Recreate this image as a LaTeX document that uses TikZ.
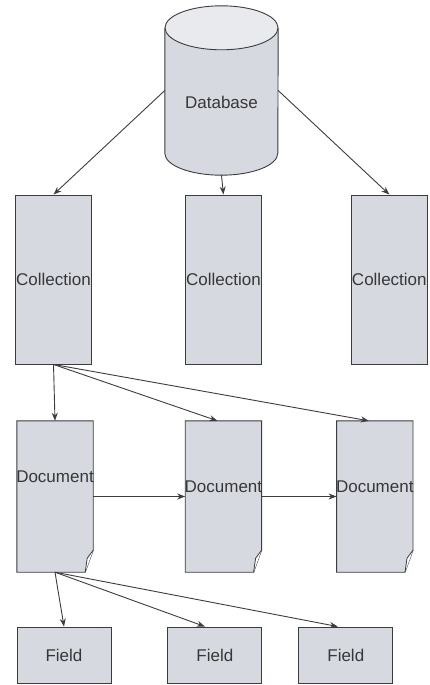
\documentclass[tikz,border=0pt]{standalone}
\usepackage{fontspec}
\setmainfont{Liberation Sans}
\usetikzlibrary{arrows.meta,positioning,backgrounds}
\definecolor{boxfill}{RGB}{214,218,224}
\definecolor{capfill}{RGB}{232,234,238}
\definecolor{edgegray}{RGB}{60,60,60}
\definecolor{textgray}{RGB}{55,55,55}

\begin{document}
\begin{tikzpicture}[x=1pt,y=-1pt,every node/.style={font=\fontsize{17}{20}\selectfont,text=textgray},
    collbox/.style={draw=edgegray,line width=0.9pt,fill=boxfill,minimum width=76pt,minimum height=169pt,inner sep=0pt},
    docpage/.style={minimum width=76pt,minimum height=151pt,inner sep=0pt},
    fieldbox/.style={draw=edgegray,line width=0.9pt,fill=boxfill,minimum width=94pt,minimum height=56pt,inner sep=0pt},
    link/.style={-{Stealth[length=8pt,width=6pt]},draw=edgegray,line width=0.9pt}]
      \useasboundingbox (0,0) rectangle (429,685);
      \node[minimum width=113pt,minimum height=169pt,inner sep=0pt,label={[yshift=-12pt]center:Database}] (db) at (221.5,90.5) {};
      \begin{scope}[on background layer]
        % database cylinder
        \draw[draw=edgegray,line width=0.9pt,fill=boxfill] ([yshift=-22pt]db.north west) -- ([yshift=22pt]db.south west)
          arc[start angle=180,end angle=360,x radius=56.5pt,y radius=22pt] -- ([yshift=-22pt]db.north east);
        \draw[draw=edgegray,line width=0.9pt,fill=capfill] ([yshift=-22pt]db.north) ellipse [x radius=56.5pt,y radius=22pt];
      \end{scope}
      % collections
      \node[collbox] (col1) at (53.5,279.5) {Collection};
      \node[collbox,right=93pt of col1] (col2) {Collection};
      \node[collbox,right=89pt of col2] (col3) {Collection};
      % documents
      \node[docpage,label={[yshift=20pt]center:Document}] (doc1) at (55,496.5) {};
      \node[docpage,label={[yshift=10pt]center:Document},right=92pt of doc1] (doc2) {};
      \node[docpage,label={[yshift=10pt]center:Document},right=75pt of doc2] (doc3) {};
      \begin{scope}[on background layer]
        \foreach \d in {doc1,doc2,doc3}{
          \draw[draw=edgegray,line width=0.9pt,fill=boxfill] (\d.north west) -- (\d.north east) -- ([yshift=22pt]\d.south east) -- ([xshift=-8pt]\d.south east) -- (\d.south west) -- cycle;
          \draw[draw=edgegray,line width=0.8pt,fill=white] ([yshift=22pt]\d.south east) -- ([xshift=-6pt,yshift=14pt]\d.south east) -- ([xshift=-8pt]\d.south east);
        }
      \end{scope}
      % fields
      \node[fieldbox] (f1) at (64,655) {Field};
      \node[fieldbox,right=56pt of f1] (f2) {Field};
      \node[fieldbox,right=36pt of f2] (f3) {Field};
      \draw[link] (db.west) -- (col1.north);
      \draw[link] (db.south) -- (col2.north);
      \draw[link] (db.east) -- (col3.north);
      \draw[link] (col1.south) -- (doc1.north);
      \draw[link] (col1.south) -- ([xshift=-6pt]doc2.north);
      \draw[link] (col1.south) -- ([xshift=-6pt]doc3.north);
      \draw[link] (doc1.east) -- (doc2.west);
      \draw[link] (doc2.east) -- (doc3.west);
      \draw[link] (doc1.south) -- (f1.north);
      \draw[link] (doc1.south) -- ([xshift=-10pt]f2.north);
      \draw[link] (doc1.south) -- ([xshift=-8pt]f3.north);
    \end{tikzpicture}
\end{document}
